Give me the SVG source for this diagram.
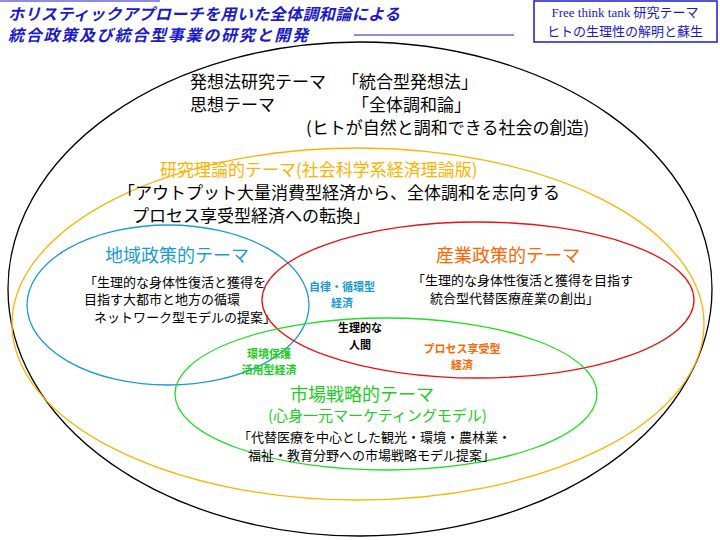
<svg xmlns="http://www.w3.org/2000/svg" width="720" height="540" viewBox="0 0 720 540">
<style>
text{font-family:"Noto Sans CJK JP","Noto Sans",sans-serif;}
.t{font-size:17px;fill:#000}
.s{font-size:13px;fill:#000}
.b{font-size:11px;font-weight:bold}
.e{fill:none;stroke-width:1.3}
</style>
<rect width="720" height="540" fill="#fff"/>
<g id="title">
<line x1="0" y1="1" x2="160" y2="1" stroke="#1a1acc"/>
<text x="8" y="20" font-size="16" font-weight="bold" font-style="italic" fill="#1a1acc" textLength="392">ホリスティックアプローチを用いた全体調和論による</text>
<text x="8" y="41" font-size="16" font-weight="bold" font-style="italic" fill="#1a1acc" textLength="300">統合政策及び統合型事業の研究と開発</text>
<line x1="354" y1="35" x2="514" y2="35" stroke="#1a1acc"/>
</g>
<g id="theme-box">
<rect x="534" y="1" width="183" height="41" fill="#fff" stroke="#1a1acc" stroke-width="1.5"/>
<text x="625" y="17" text-anchor="middle" font-size="13" fill="#1a1acc" style="font-family:'Liberation Serif','Noto Sans CJK JP',serif">Free think tank 研究テーマ</text>
<text x="625" y="36" text-anchor="middle" font-size="13" fill="#1a1acc" style="font-family:'Liberation Serif','Noto Sans CJK JP',serif">ヒトの生理性の解明と蘇生</text>
</g>
<g id="outer">
<ellipse class="e" cx="360" cy="289" rx="352" ry="247" stroke="#000"/>
<text class="t" x="190" y="88">発想法研究テーマ</text>
<text class="t" x="342" y="88">「統合型発想法」</text>
<text class="t" x="190" y="111">思想テーマ</text>
<text class="t" x="352" y="111">「全体調和論」</text>
<text class="t" x="306" y="134">(ヒトが自然と調和できる社会の創造)</text>
</g>
<g id="research">
<ellipse class="e" cx="358" cy="324" rx="346" ry="176" stroke="#ffb300" stroke-width="2"/>
<text x="160" y="176" font-size="17" fill="#ffb300">研究理論的テーマ(社会科学系経済理論版)</text>
<text class="t" x="118" y="199">「アウトプット大量消費型経済から、全体調和を志向する</text>
<text class="t" x="132" y="222">プロセス享受型経済への転換」</text>
</g>
<g id="region">
<ellipse class="e" cx="168" cy="305" rx="141" ry="80" stroke="#1a9ad6"/>
<text x="105" y="262" font-size="18" fill="#1a9ad6">地域政策的テーマ</text>
<text class="s" x="84" y="287">「生理的な身体性復活と獲得を</text>
<text class="s" x="84" y="304">目指す大都市と地方の循環</text>
<text class="s" x="94" y="322">ネットワーク型モデルの提案」</text>
</g>
<g id="industry">
<ellipse class="e" cx="478" cy="300" rx="216" ry="78" stroke="#ee1111"/>
<text x="436" y="262" font-size="18" fill="#ff6600">産業政策的テーマ</text>
<text class="s" x="412" y="285">「生理的な身体性復活と獲得を目指す</text>
<text class="s" x="430" y="303">統合型代替医療産業の創出」</text>
</g>
<g id="market">
<ellipse class="e" cx="386" cy="394" rx="211" ry="76" stroke="#22dd22"/>
<text x="290" y="401" font-size="18" fill="#22cc22">市場戦略的テーマ</text>
<text x="268" y="421" font-size="15" fill="#22cc22">(心身一元マーケティングモデル)</text>
<text class="s" x="238" y="442">「代替医療を中心とした観光・環境・農林業・</text>
<text class="s" x="248" y="460">福祉・教育分野への市場戦略モデル提案」</text>
</g>
<g id="overlaps">
<text class="b" x="342" y="291" text-anchor="middle" fill="#1a9ad6">自律・循環型</text>
<text class="b" x="342" y="307" text-anchor="middle" fill="#1a9ad6">経済</text>
<text class="b" x="360" y="332" text-anchor="middle" fill="#000">生理的な</text>
<text class="b" x="360" y="349" text-anchor="middle" fill="#000">人間</text>
<text class="b" x="269" y="358" text-anchor="middle" fill="#22cc22">環境保護</text>
<text class="b" x="269" y="374" text-anchor="middle" fill="#22cc22">活用型経済</text>
<text class="b" x="462" y="353" text-anchor="middle" fill="#ff6600">プロセス享受型</text>
<text class="b" x="462" y="369" text-anchor="middle" fill="#ff6600">経済</text>
</g>
<g id="connectors"/>
</svg>
